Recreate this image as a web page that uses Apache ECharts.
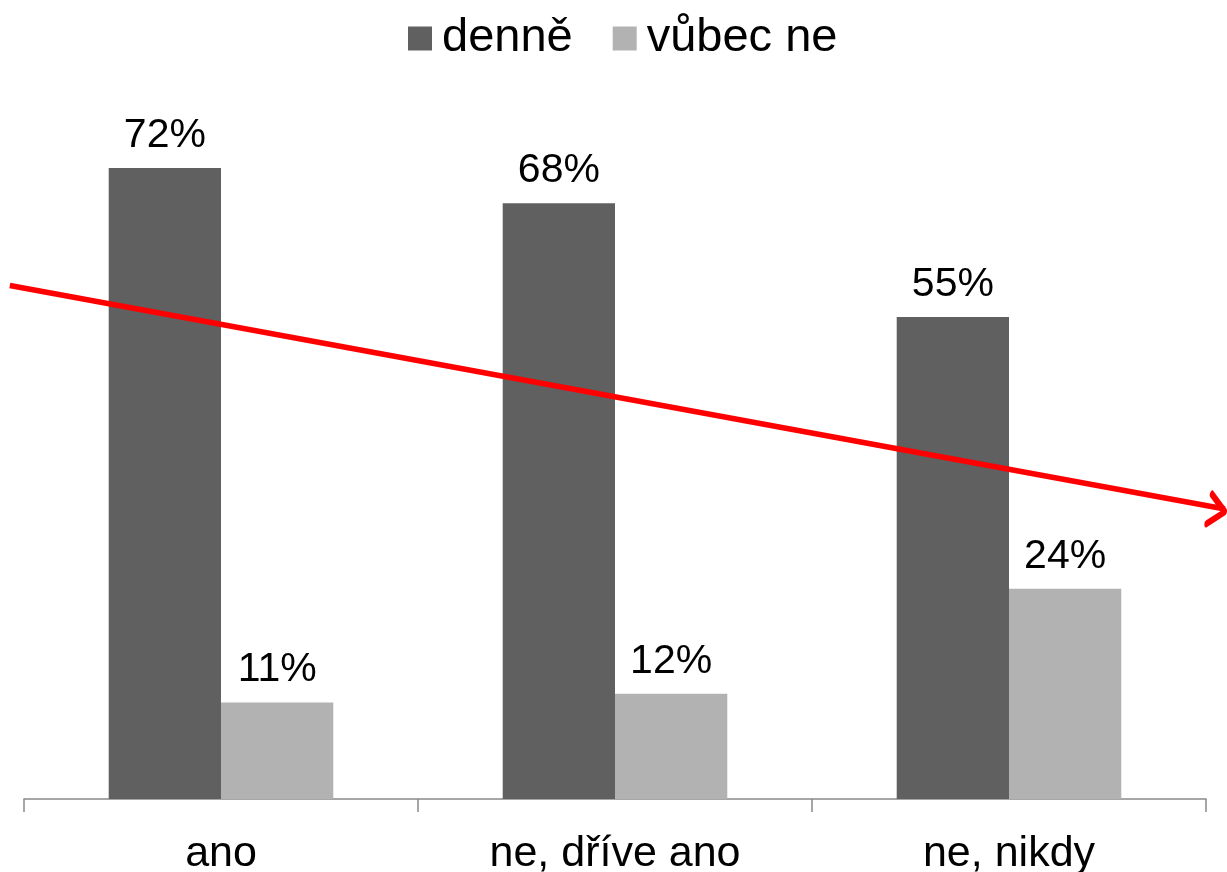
<!DOCTYPE html>
<html><head><meta charset="utf-8">
<script src="https://cdn.jsdelivr.net/npm/echarts@6/dist/echarts.min.js"></script>
<style>html,body{margin:0;padding:0;background:#fff}#c{width:1227px;height:872px}</style>
</head><body><div id="c"></div>
<script>
const categories = ['ano', 'ne, dříve ano', 'ne, nikdy'];
const seriesNames = ['denně', 'vůbec ne'];
const denne = [72, 68, 55];
const vubecNe = [11, 12, 24];
// trend arrow: [category-position, value]
const trendLine = [[-0.036, 58.6], [3.048, 33.1]];

const FONT = 'Liberation Sans, Arial, sans-serif';
const W = 1227, GL = 24, GR = 21;
const unit = (W - GL - GR) / categories.length;
const chart = echarts.init(document.getElementById('c'));
const angle = Math.atan2((trendLine[0][1] - trendLine[1][1]) * 8.76, (trendLine[1][0] - trendLine[0][0]) * unit);
const rotDeg = -angle * 180 / Math.PI;
const half = 8;
chart.setOption({
  animation: false,
  textStyle: { fontFamily: FONT },
  legend: {
    top: 10, left: 403,
    icon: 'rect',
    itemWidth: 24, itemHeight: 24, itemGap: 40,
    textStyle: { fontSize: 47, color: '#000', fontFamily: FONT, padding: [0, 0, 0, 5] },
    data: seriesNames
  },
  grid: [
    { left: GL, right: GR, top: 98, bottom: 73, outerBoundsMode: 'none', containLabel: false },
    { left: 0, right: 0, top: 98, bottom: 73, outerBoundsMode: 'none', containLabel: false }
  ],
  xAxis: [{
    type: 'category', data: categories, gridIndex: 0,
    axisLine: { lineStyle: { color: '#898989', width: 1.5 } },
    axisTick: { show: true, length: 13, lineStyle: { color: '#898989', width: 1.5 } },
    axisLabel: { fontSize: 43, color: '#000', margin: 34, fontFamily: FONT }
  }, {
    type: 'value', gridIndex: 1, min: -GL / unit, max: categories.length + GR / unit, show: false
  }],
  yAxis: [
    { type: 'value', gridIndex: 0, min: 0, max: 80, show: false },
    { type: 'value', gridIndex: 1, min: 0, max: 80, show: false }
  ],
  series: [{
    name: seriesNames[0], type: 'bar', data: denne, barGap: '0%', barCategoryGap: '43%',
    itemStyle: { color: '#606060' },
    label: { show: true, position: 'top', distance: 12, fontSize: 41, color: '#000', formatter: '{c}%', fontFamily: FONT }
  }, {
    name: seriesNames[1], type: 'bar', data: vubecNe, barGap: '0%', barCategoryGap: '43%',
    itemStyle: { color: '#b2b2b2' },
    label: { show: true, position: 'top', distance: 12, fontSize: 41, color: '#000', formatter: '{c}%', fontFamily: FONT }
  }, {
    type: 'line', xAxisIndex: 1, yAxisIndex: 1, clip: false, silent: true,
    lineStyle: { color: '#ff0000', width: 5.5 },
    symbol: 'none',
    data: [
      { value: trendLine[0] },
      { value: trendLine[1], symbol: 'path://M0 0 L10 10 L0 20', symbolSize: [16, 30],
        symbolRotate: rotDeg,
        symbolOffset: [-half * Math.cos(angle), half * Math.sin(angle)],
        itemStyle: { color: 'none', borderColor: '#ff0000', borderWidth: 5.5, borderCap: 'round', borderJoin: 'round' } }
    ]
  }]
});
</script></body></html>
